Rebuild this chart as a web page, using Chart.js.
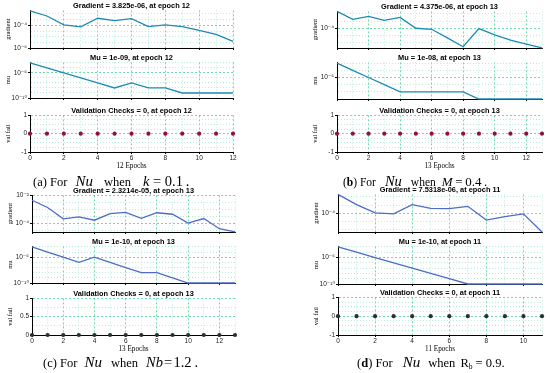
<!DOCTYPE html>
<html><head><meta charset="utf-8">
<script src="https://cdn.jsdelivr.net/npm/chart.js@4.4.1/dist/chart.umd.min.js"></script>
<style>
html,body{margin:0;padding:0;background:#fff;}
#wrap{position:relative;width:550px;height:373px;overflow:hidden;background:#fff;}
canvas{position:absolute;}
.cap{position:absolute;white-space:nowrap;color:#000;font-family:"Liberation Serif","Times New Roman","DejaVu Serif",serif;line-height:18px;height:18px;}
.cap span{display:inline-block;}
.it{font-style:italic;}
</style></head><body><div id="wrap"></div>
<script>
// ================= DATA =================
const epochsA = [0,1,2,3,4,5,6,7,8,9,10,11,12];
const epochsB = [0,1,2,3,4,5,6,7,8,9,10,11,12,13];
const epochsC = [0,1,2,3,4,5,6,7,8,9,10,11,12,13];
const epochsD = [0,1,2,3,4,5,6,7,8,9,10,11];

const gradientA = [1.78e-3,6.46e-4,1.07e-4,7.24e-5,4.07e-4,2.57e-4,3.80e-4,7.59e-5,1.07e-4,7.59e-5,3.47e-5,1.55e-5,3.825e-6];
const gradientB = [1.45e-3,4.07e-4,6.61e-4,3.47e-4,5.62e-4,1.0e-4,8.5e-5,2.19e-5,5.37e-6,9.5e-5,3.55e-5,1.51e-5,8.13e-6,4.375e-6];
const gradientC = [4.47e-3,1.35e-3,2.04e-4,2.82e-4,1.62e-4,4.79e-4,6.03e-4,2.24e-4,5.62e-4,4.37e-4,1.0e-4,2.14e-4,3.98e-5,2.3214e-5];
const gradientD = [1.32e-3,3.24e-4,1.05e-4,9.12e-5,3.24e-4,1.95e-4,1.86e-4,2.57e-4,3.89e-5,6.31e-5,9.12e-5,7.5318e-6];

const muA = [1e-3,1e-4,1e-5,1e-6,1e-7,1e-8,1e-7,1e-8,1e-8,1e-9,1e-9,1e-9,1e-9];
const muB = [1e-3,1e-4,1e-5,1e-6,1e-7,1e-7,1e-7,1e-7,1e-7,1e-8,1e-8,1e-8,1e-8,1e-8];
const muC = [1e-3,1e-4,1e-5,1e-6,1e-5,1e-6,1e-7,1e-8,1e-8,1e-9,1e-10,1e-10,1e-10,1e-10];
const muD = [1e-3,1e-4,1e-5,1e-6,1e-7,1e-8,1e-9,1e-10,1e-10,1e-10,1e-10,1e-10];

const valFailA = [0,0,0,0,0,0,0,0,0,0,0,0,0];
const valFailB = [0,0,0,0,0,0,0,0,0,0,0,0,0,0];
const valFailC = [0,0,0,0,0,0,0,0,0,0,0,0,0,0];
const valFailD = [0,0,0,0,0,0,0,0,0,0,0,0];

// axis ranges
const gradRangeA = [1e-6, 2.0e-3];
const gradRangeB = [4.37e-6, 1.45e-3];
const gradRangeC = [2.29e-5, 1e-2];
const gradRangeD = [7.53e-6, 1.32e-3];
const muRangeA = [1e-10, 1.26e-3];
const muRangeB = [1e-8, 1.26e-3];
const muRangeC = [1e-10, 1.26e-3];
const muRangeD = [1e-10, 1.26e-3];

// tick labels
const gradTickValsA = [1e-6, 1e-4];   const gradTickTextA = ['10⁻⁶','10⁻⁴'];
const gradTickValsB = [1e-4];         const gradTickTextB = ['10⁻⁴'];
const gradTickValsC = [1e-4, 1e-2];   const gradTickTextC = ['10⁻⁴','10⁻²'];
const gradTickValsD = [1e-4];         const gradTickTextD = ['10⁻⁴'];
const muTickValsA = [1e-10, 1e-5];    const muTickTextA = ['10⁻¹⁰','10⁻⁵'];
const muTickValsB = [1e-5];           const muTickTextB = ['10⁻⁵'];
const muTickValsC = [1e-10, 1e-5];    const muTickTextC = ['10⁻¹⁰','10⁻⁵'];
const muTickValsD = [1e-10, 1e-5];    const muTickTextD = ['10⁻¹⁰','10⁻⁵'];
const valTickVals = [-1, 0, 1];       const valTickText = ['-1','0','1'];
const valTickValsC = [0, 0.5, 1];     const valTickTextC = ['0','0.5','1'];

const gradTitles = ['Gradient = 3.825e-06, at epoch 12','Gradient = 4.375e-06, at epoch 13','Gradient = 2.3214e-05, at epoch 13','Gradient = 7.5318e-06, at epoch 11'];
const muTitles = ['Mu = 1e-09, at epoch 12','Mu = 1e-08, at epoch 13','Mu = 1e-10, at epoch 13','Mu = 1e-10, at epoch 11'];
const valTitles = ['Validation Checks = 0, at epoch 12','Validation Checks = 0, at epoch 13','Validation Checks = 0, at epoch 13','Validation Checks = 0, at epoch 11'];
const epochTitles = ['12 Epochs','13 Epochs','13 Epochs','11 Epochs'];

// ================= STYLE / LAYOUT =================
const SANS = '"Liberation Sans", Arial, "DejaVu Sans", sans-serif';
const SERIF = '"Liberation Serif", "Times New Roman", "DejaVu Serif", serif';
const MAJ = 'rgba(70,205,150,0.95)';
const MIN = 'rgba(150,225,195,0.8)';
const lineColAB = '#1f8ab4';
const lineColCD = '#4d6cc6';
const wrap = document.getElementById('wrap');

function sameVal(a, b) { return Math.abs(a - b) <= Math.abs(b) * 1e-6 + 1e-12; }

function logMinor(min, max, mults) {
  const out = [];
  for (let k = Math.floor(Math.log10(min)) - 1; k <= Math.ceil(Math.log10(max)); k++) {
    for (const m of mults) {
      const v = m * parseFloat('1e' + k);
      if (v >= min * 0.999 && v <= max * 1.001) out.push(v);
    }
  }
  return out;
}

function addChart(g, cfg) {
  const W = g.R - g.L + 30 + 8, H = g.B - g.T + 10 + g.xh;
  const c = document.createElement('canvas');
  c.width = W; c.height = H;
  c.style.left = (g.L - 30) + 'px'; c.style.top = (g.T - 10) + 'px';
  c.style.width = W + 'px'; c.style.height = H + 'px';
  wrap.appendChild(c);

  const pts = cfg.y.map((v, i) => ({x: cfg.x[i], y: v}));
  const yTicks = cfg.yGrid.slice();
  cfg.tickVals.forEach(v => { if (!yTicks.some(t => sameVal(t, v))) yTicks.push(v); });
  yTicks.sort((a, b) => a - b);
  const isMajY = v => cfg.tickVals.some(t => sameVal(v, t));
  const labY = v => { const i = cfg.tickVals.findIndex(t => sameVal(v, t)); return i >= 0 ? cfg.tickText[i] : ''; };
  const isMajX = v => Math.abs(v % 2) < 1e-9;

  new Chart(c, {
    type: 'line',
    data: { datasets: [{
      data: pts,
      borderColor: cfg.color,
      borderWidth: cfg.points ? 0 : 1.3,
      showLine: !cfg.points,
      pointRadius: cfg.points ? 2.1 : 0,
      pointBackgroundColor: cfg.pointColor,
      pointBorderColor: cfg.pointColor,
      pointStyle: 'circle',
      tension: 0,
      clip: false
    }]},
    options: {
      responsive: false, animation: false, devicePixelRatio: 1,
      layout: { padding: {left: 0, right: 8, top: 0, bottom: 0}, autoPadding: false },
      plugins: {
        legend: {display: false}, tooltip: {enabled: false},
        title: { display: true, text: cfg.title, fullSize: false, color: '#000',
          font: {family: SANS, size: 7.4, weight: 'bold', lineHeight: 1}, padding: {top: 2, bottom: 1} }
      },
      scales: {
        x: {
          type: 'linear', min: 0, max: cfg.xMax,
          afterFit: s => { s.height = g.xh; },
          ticks: { display: !!cfg.xTitle, stepSize: 1, autoSkip: false, maxRotation: 0, padding: 0,
            font: {family: SANS, size: 6.5}, color: '#222',
            callback: v => (isMajX(v) ? String(v) : '') },
          grid: { color: ctx => isMajX(ctx.tick.value) ? MAJ : MIN, lineWidth: 0.8,
            tickColor: ctx => isMajX(ctx.tick.value) ? '#000' : 'rgba(0,0,0,0)',
            tickLength: 2, tickWidth: 1, tickBorderDash: [] },
          border: { display: true, color: '#000', width: 1,
            dash: ctx => (ctx.tick && isMajX(ctx.tick.value)) ? [2, 2] : [1, 2] },
          title: cfg.xTitle ? { display: true, text: cfg.xTitle, color: '#000',
            font: {family: SERIF, size: 7.2, lineHeight: 1}, padding: {top: 0, bottom: 0} } : {display: false}
        },
        y: {
          type: cfg.log ? 'logarithmic' : 'linear', min: cfg.yMin, max: cfg.yMax,
          afterBuildTicks: s => { s.ticks = yTicks.map(v => ({value: v})); },
          afterFit: s => { s.width = 30; },
          ticks: { autoSkip: false, padding: 1, font: {family: SANS, size: 6.5}, color: '#222',
            callback: v => labY(v) },
          grid: { color: ctx => isMajY(ctx.tick.value) ? MAJ : MIN, lineWidth: 0.8,
            tickColor: ctx => isMajY(ctx.tick.value) ? '#000' : 'rgba(0,0,0,0)',
            tickLength: 2, tickWidth: 1, tickBorderDash: [] },
          border: { display: true, color: '#000', width: 1,
            dash: ctx => (ctx.tick && isMajY(ctx.tick.value)) ? [2, 2] : [1, 2] },
          title: { display: true, text: cfg.yTitle, color: '#000',
            font: {family: SERIF, size: 6.5, lineHeight: 1}, padding: {top: 5.5, bottom: 0} }
        }
      }
    }
  });
}

// panel geometry (plot areas)
const geo = [
  { grad: {L:30, R:233, T:10, B:48, xh:5},  mu: {L:30, R:233, T:62, B:98, xh:5},  val: {L:30, R:233, T:115, B:152, xh:18} },
  { grad: {L:337,R:542, T:11, B:48, xh:5},  mu: {L:337,R:542, T:62, B:99, xh:5},  val: {L:337,R:542, T:115, B:152, xh:18} },
  { grad: {L:32, R:235, T:195,B:232,xh:5},  mu: {L:32, R:235, T:246,B:283,xh:5},  val: {L:32, R:235, T:298, B:335, xh:18} },
  { grad: {L:338,R:542, T:194,B:232,xh:5},  mu: {L:338,R:542, T:246,B:284,xh:5},  val: {L:338,R:542, T:297, B:335, xh:18} }
];

const panels = [
  {ep: epochsA, g: gradientA, gr: gradRangeA, gtv: gradTickValsA, gtt: gradTickTextA, m: muA, mr: muRangeA, mtv: muTickValsA, mtt: muTickTextA, v: valFailA, col: lineColAB, pc: '#8a1538', vc: false},
  {ep: epochsB, g: gradientB, gr: gradRangeB, gtv: gradTickValsB, gtt: gradTickTextB, m: muB, mr: muRangeB, mtv: muTickValsB, mtt: muTickTextB, v: valFailB, col: lineColAB, pc: '#8a1538', vc: false},
  {ep: epochsC, g: gradientC, gr: gradRangeC, gtv: gradTickValsC, gtt: gradTickTextC, m: muC, mr: muRangeC, mtv: muTickValsC, mtt: muTickTextC, v: valFailC, col: lineColCD, pc: '#2e2e3a', vc: true},
  {ep: epochsD, g: gradientD, gr: gradRangeD, gtv: gradTickValsD, gtt: gradTickTextD, m: muD, mr: muRangeD, mtv: muTickValsD, mtt: muTickTextD, v: valFailD, col: lineColCD, pc: '#2e2e3a', vc: false}
];

panels.forEach((p, i) => {
  const xMax = p.ep[p.ep.length - 1];
  addChart(geo[i].grad, { x: p.ep, y: p.g, log: true, yMin: p.gr[0], yMax: p.gr[1],
    yGrid: logMinor(p.gr[0], p.gr[1], [1, 3]), tickVals: p.gtv, tickText: p.gtt,
    title: gradTitles[i], yTitle: 'gradient', xMax, color: p.col });
  addChart(geo[i].mu, { x: p.ep, y: p.m, log: true, yMin: p.mr[0], yMax: p.mr[1],
    yGrid: logMinor(p.mr[0], p.mr[1], [1]), tickVals: p.mtv, tickText: p.mtt,
    title: muTitles[i], yTitle: 'mu', xMax, color: p.col });
  const vmin = p.vc ? 0 : -1;
  const vgrid = p.vc ? [0, 0.25, 0.5, 0.75, 1] : [-1, -0.75, -0.5, -0.25, 0, 0.25, 0.5, 0.75, 1];
  addChart(geo[i].val, { x: p.ep, y: p.v, log: false, yMin: vmin, yMax: 1,
    yGrid: vgrid, tickVals: p.vc ? valTickValsC : valTickVals, tickText: p.vc ? valTickTextC : valTickText,
    title: valTitles[i], yTitle: 'val fail', xMax, color: p.pc, points: true, pointColor: p.pc, xTitle: epochTitles[i] });
});

// ================= CAPTIONS =================
function cap(x, y, html) {
  const d = document.createElement('div');
  d.className = 'cap';
  d.style.left = x + 'px'; d.style.top = (y - 9) + 'px';
  d.innerHTML = html;
  wrap.appendChild(d);
}
cap(33, 181, '<span style="font-size:12.5px">(a) For</span><span class="it" style="font-size:15px;margin-left:8px">Nu</span><span style="font-size:12.5px;margin-left:11px">when</span><span style="font-size:14.5px;margin-left:12px"><span class="it">k</span>&nbsp;=&nbsp;0.1&thinsp;.</span>');
cap(343, 181, '<span style="font-size:11.5px">(<b>b</b>) For</span><span class="it" style="font-size:14.5px;margin-left:9px">Nu</span><span style="font-size:11.5px;margin-left:9px">when</span><span style="font-size:13px;margin-left:6px"><span class="it">M</span>&thinsp;=&thinsp;0.4&thinsp;.</span>');
cap(43, 362, '<span style="font-size:12.5px">(c) For</span><span class="it" style="font-size:15px;margin-left:7px">Nu</span><span style="font-size:12.5px;margin-left:9px">when</span><span style="font-size:14.5px;margin-left:8px"><span class="it">Nb</span>&#8202;=&#8202;1.2&thinsp;.</span>');
cap(357, 362, '<span style="font-size:12.5px">(<b>d</b>) For</span><span class="it" style="font-size:15px;margin-left:10px">Nu</span><span style="font-size:12.5px;margin-left:8px">when</span><span style="font-size:12.5px;margin-left:5px">R<span style="font-size:7.5px;vertical-align:-2px">b</span> = 0.9.</span>');
</script>
</body></html>
